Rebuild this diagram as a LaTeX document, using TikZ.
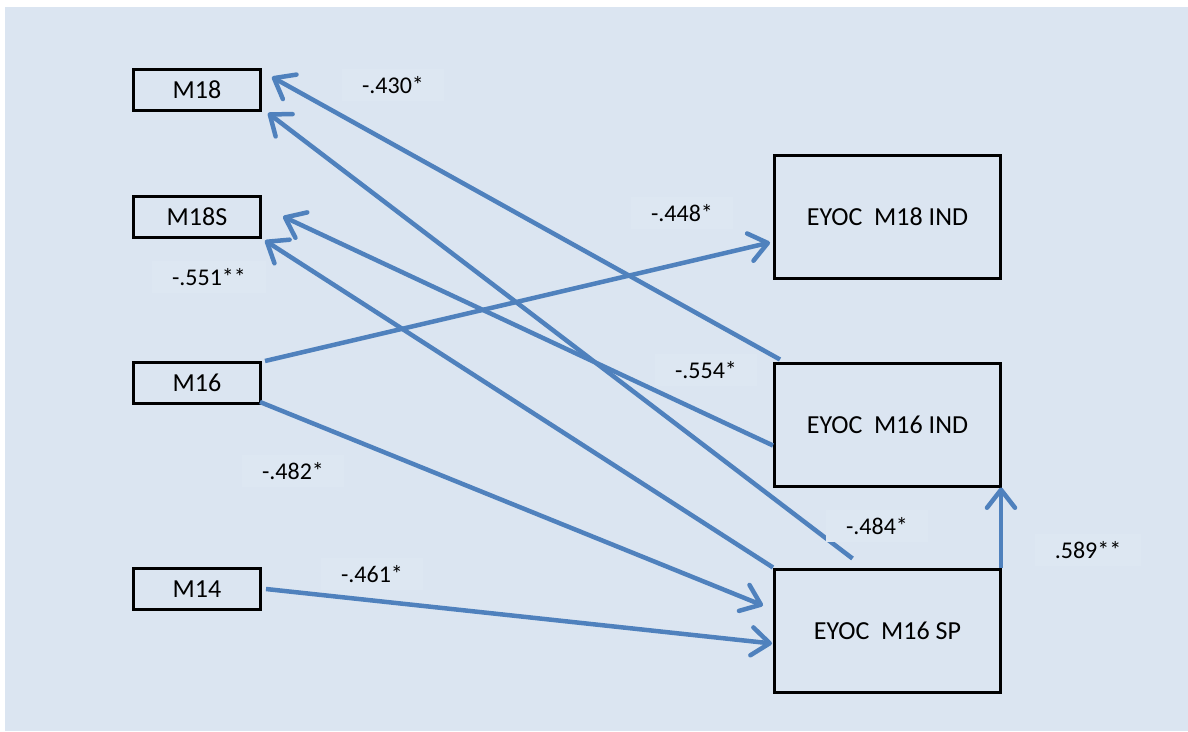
\documentclass[tikz,border=0pt]{standalone}
\usepackage{fontspec}
\setmainfont{Carlito}
\usetikzlibrary{arrows.meta,positioning,shapes}

\definecolor{paneblue}{RGB}{219,229,241}
\definecolor{pathblue}{RGB}{79,129,189}
\definecolor{tagblue}{RGB}{221,231,242}

\begin{document}
\begin{tikzpicture}[->,>={Straight Barb[length=18pt,width=28pt,round]},x=1pt,y=-1pt]
\tikzstyle{every node}=[font=\fontsize{26}{30}\selectfont]
\tikzstyle{var}=[draw=black,line width=3pt,shape=rectangle,minimum width=127pt,minimum height=41pt,inner sep=0pt,text=black]
\tikzstyle{outcome}=[var,minimum width=226pt,minimum height=123pt]
\tikzstyle{coef}=[fill=tagblue,inner xsep=20pt,inner ysep=7pt,text=black,font=\fontsize{24}{27}\selectfont]
\tikzstyle{link}=[draw=pathblue,line width=4.5pt]

\useasboundingbox (0,0) rectangle (1188,731);
\fill[white,-] (0,0) rectangle (1188,731);
\fill[paneblue,-] (5,7) rectangle (1188,731);

\node[var]          (A) at (197,90)                          {M18};
\node[var]          (B) [below of=A,node distance=126.5pt]   {M18S};
\node[var]          (C) [below of=B,node distance=166.5pt]   {M16};
\node[var]          (D) [below of=C,node distance=206pt]     {M14};
\node[outcome]      (E) [right of=B,node distance=690.5pt]   {EYOC\ \ M18 IND};
\node[outcome]      (F) [below of=E,node distance=208pt]     {EYOC\ \ M16 IND};
\node[outcome]      (G) [below of=F,node distance=206pt]     {EYOC\ \ M16 SP};

\path
([xshift=7pt,yshift=2pt]F.north west) edge[link] ([xshift=10pt,yshift=13pt]A.east)
([xshift=-35pt,yshift=9pt]G.north) edge[link] ([xshift=6pt,yshift=-1pt]A.south east)
([yshift=-21pt]F.west) edge[link] ([xshift=21pt]B.east)
(G.north west) edge[link] ([xshift=3pt,yshift=-2pt]B.south east)
([xshift=3pt]C.north east) edge[link] ([xshift=-3pt,yshift=-26pt]E.west)
([xshift=-2pt,yshift=3pt]C.south east) edge[link] ([xshift=-10pt,yshift=25pt]G.west)
([xshift=4pt]D.east) edge[link] ([xshift=-1pt,yshift=-13pt]G.west)
([xshift=-1pt]G.north east) edge[link] ([xshift=-1pt]F.south east)
;

\node[coef] (H) at (393,85)   {-.430*};
\node[coef] (I) at (682,213)  {-.448*};
\node[coef] (J) at (209,277)  {-.551**};
\node[coef] (K) at (706,370)  {-.554*};
\node[coef] (L) at (293,471)  {-.482*};
\node[coef] (M) at (372,574)  {-.461*};
\node[coef] (N) at (877,526)  {-.484*};
\node[coef] (O) at (1088,550) {.589**};
    \end{tikzpicture}
\end{document}
